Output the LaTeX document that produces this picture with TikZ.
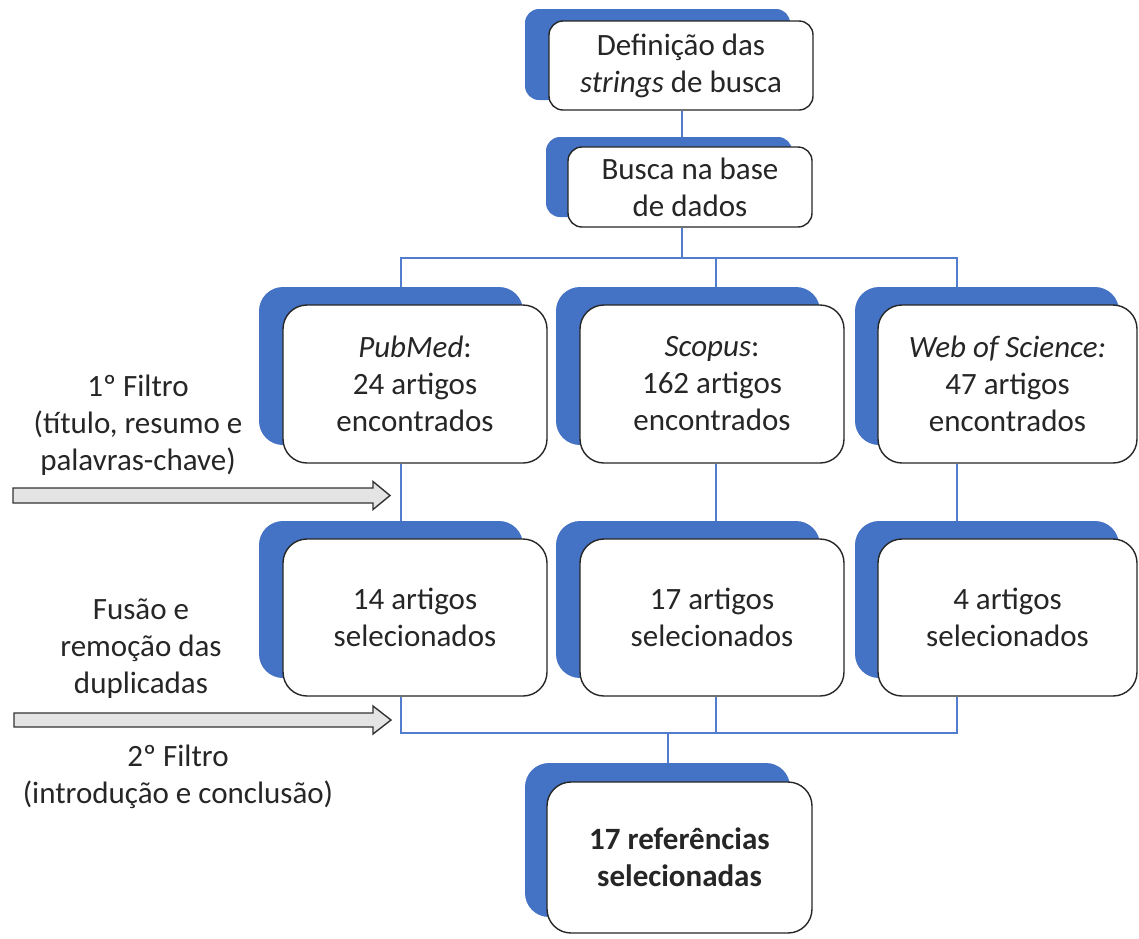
\documentclass[tikz,border=0pt]{standalone}
\usepackage{fontspec}
\setmainfont{Carlito}
\definecolor{bluebg}{RGB}{68,114,196}
\definecolor{connblue}{RGB}{80,125,205}
\definecolor{txt}{RGB}{38,38,38}
\definecolor{arrowfill}{RGB}{228,228,228}
\tikzset{
  bluebox/.style={fill=bluebg, draw=none, rounded corners=24pt, inner sep=0pt},
  whitebox/.style={fill=white, draw=black!85, line width=1.4pt, rounded corners=24pt, inner sep=0pt, align=center, text=txt},
  smallblue/.style={bluebox, rounded corners=14pt},
  smallwhite/.style={whitebox, rounded corners=14pt},
  conn/.style={draw=connblue, line width=1.6pt},
  fatarrow/.style={draw=black!80, fill=arrowfill, line width=1.4pt, line join=miter},
  lefttext/.style={align=center, inner sep=0pt, text=txt},
}
\begin{document}
\begin{tikzpicture}[x=1pt,y=-1pt, font=\fontsize{31}{37}\selectfont]
\useasboundingbox (0,0) rectangle (1139,938);

% top boxes
\node[smallblue, minimum width=265, minimum height=91] (bdef) at (657.5,54.5) {};
\node[smallwhite, minimum width=264, minimum height=89] (wdef) at (681,65.5) {Definição das\\\textit{strings} de busca};
\node[smallblue, minimum width=246, minimum height=80] (bbus) at (669,177) {};
\node[smallwhite, minimum width=244, minimum height=80] (wbus) at (690,187) {Busca na base\\de dados};

% row 1
\node[bluebox, minimum width=264, minimum height=158] (bpub) at (391,366) {};
\node[whitebox, minimum width=264, minimum height=158] (wpub) at (415,384) {\textit{PubMed}:\\24 artigos\\encontrados};
\node[bluebox, minimum width=264, minimum height=158] (bsco) at (688,366) {};
\node[whitebox, minimum width=264, minimum height=158] (wsco) at (712,384) {\textit{Scopus}:\\162 artigos\\encontrados};
\node[bluebox, minimum width=264, minimum height=158] (bwos) at (987,366) {};
\node[whitebox, minimum width=259, minimum height=158] (wwos) at (1007.5,384) {\textit{Web of Science:}\\47 artigos\\encontrados};

% row 2
\node[bluebox, minimum width=264, minimum height=157] (bpub2) at (391,599.5) {};
\node[whitebox, minimum width=264, minimum height=157] (wpub2) at (415,617.5) {14 artigos\\selecionados};
\node[bluebox, minimum width=264, minimum height=157] (bsco2) at (688,599.5) {};
\node[whitebox, minimum width=264, minimum height=157] (wsco2) at (712,617.5) {17 artigos\\selecionados};
\node[bluebox, minimum width=264, minimum height=157] (bwos2) at (987,599.5) {};
\node[whitebox, minimum width=259, minimum height=157] (wwos2) at (1007.5,617.5) {4 artigos\\selecionados};

% final
\node[bluebox, minimum width=265, minimum height=154] (bfin) at (657.5,840) {};
\node[whitebox, minimum width=265, minimum height=151] (wfin) at (679.5,857.5) {\bfseries 17 referências\\\bfseries selecionadas};

% connectors
\coordinate (j0) at (682,258);
\coordinate (c1) at (401,258);
\coordinate (c2) at (716,258);
\coordinate (c3) at (957,258);
\coordinate (d1) at (401,733);
\coordinate (d2) at (716,733);
\coordinate (d3) at (957,733);
\coordinate (d0) at (668,733);

\draw[conn] (j0 |- wdef.south) -- (j0 |- bbus.north);
\draw[conn] (j0 |- wbus.south) -- (j0);
\draw[conn] (c1 |- bpub.north) -- (c1) -- (c3) -- (c3 |- bwos.north);
\draw[conn] (c2) -- (c2 |- bsco.north);
\draw[conn] (c1 |- wpub.south) -- (c1 |- bpub2.north);
\draw[conn] (c2 |- wsco.south) -- (c2 |- bsco2.north);
\draw[conn] (c3 |- wwos.south) -- (c3 |- bwos2.north);
\draw[conn] (c1 |- wpub2.south) -- (d1) -- (d3) -- (c3 |- wwos2.south);
\draw[conn] (d2) -- (c2 |- wsco2.south);
\draw[conn] (d0) -- (d0 |- bfin.north);

% fat arrows
\draw[fatarrow] (13,488) -- (373,488) -- (373,481.5) -- (390,495.5) -- (373,509.5) -- (373,503) -- (13,503) -- cycle;
\draw[fatarrow] (14,713) -- (373,713) -- (373,706) -- (391,720) -- (373,734) -- (373,727) -- (14,727) -- cycle;

% left texts
\node[lefttext] (t1) at (138,425) {1º Filtro\\(título, resumo e\\palavras-chave)};
\node[lefttext] (t2) at (141,649) {Fusão e\\remoção das\\duplicadas};
\node[lefttext] (t3) at (178,777) {2º Filtro\\(introdução e conclusão)};
\end{tikzpicture}
\end{document}
